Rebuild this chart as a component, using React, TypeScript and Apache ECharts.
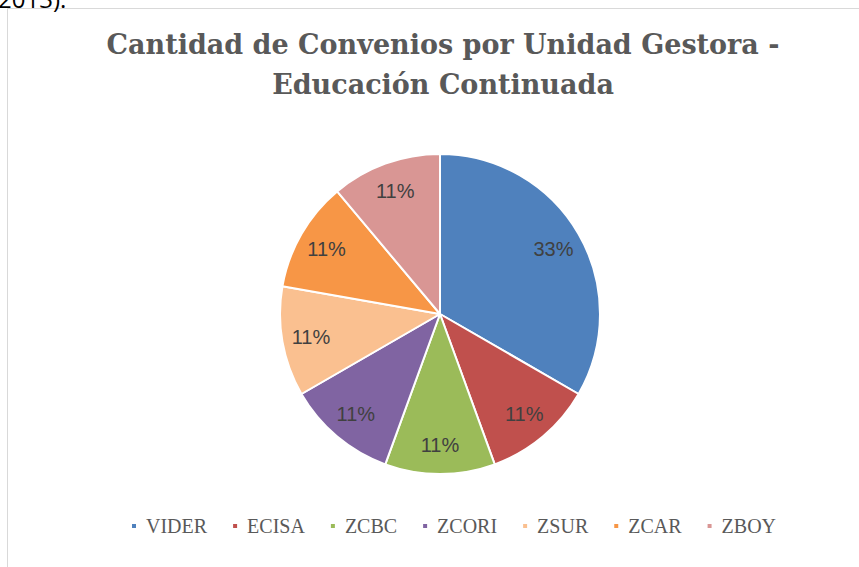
import React, { useEffect, useRef } from "react";
import * as echarts from "echarts";

const titleLines = ["Cantidad de Convenios por Unidad Gestora -", "Educación Continuada"];
const categories = ["VIDER", "ECISA", "ZCBC", "ZCORI", "ZSUR", "ZCAR", "ZBOY"];
const counts = [3, 1, 1, 1, 1, 1, 1];
const colors = ["#4F81BD", "#C0504D", "#9BBB59", "#8064A2", "#FAC090", "#F79646", "#D99694"];
const topText = "2013).";

export default function App() {
  const ref = useRef<HTMLDivElement>(null);
  useEffect(() => {
    if (!ref.current) return;
    const chart = echarts.init(ref.current, null, { renderer: "svg" });
    const data = categories.map((name, i) => ({ name, value: counts[i], itemStyle: { color: colors[i] } }));
    const total = counts.reduce((a, b) => a + b, 0);
    chart.setOption({
      animation: false,
      backgroundColor: "#ffffff",
      graphic: [
        {
          type: "rect",
          shape: { x: 7.5, y: 8.5, width: 900, height: 620 },
          style: { fill: "none", stroke: "#d9d9d9", lineWidth: 1 },
          silent: true,
        },
        {
          type: "text",
          x: -2,
          y: 10,
          style: {
            text: topText,
            fill: "#000000",
            font: "24px 'Open Sans', sans-serif",
            textVerticalAlign: "bottom",
          },
          silent: true,
        },
      ],
      title: {
        text: titleLines.join("\n"),
        left: 438,
        textAlign: "center",
        top: 19,
        textStyle: {
          fontFamily: "'DejaVu Serif', serif",
          fontWeight: "bold",
          fontSize: 27,
          lineHeight: 40,
          color: "#595959",
        },
      },
      legend: {
        top: 511,
        left: 125,
        itemWidth: 6,
        itemHeight: 6,
        itemGap: 24,
        icon: "rect",
        data: categories,
        textStyle: {
          fontFamily: "'Liberation Serif', serif",
          fontSize: 20,
          color: "#595959",
          padding: [0, 0, 0, 4],
        },
      },
      series: [
        {
          type: "pie",
          center: [440, 314],
          radius: [0, 160],
          startAngle: 90,
          clockwise: true,
          data,
          label: { show: false },
          labelLine: { show: false },
          itemStyle: { borderColor: "#ffffff", borderWidth: 2 },
          silent: true,
        },
        {
          type: "pie",
          center: [440, 314],
          radius: [96, 160],
          startAngle: 90,
          clockwise: true,
          data: categories.map((name, i) => ({ name, value: counts[i] })),
          itemStyle: { color: "rgba(0,0,0,0)" },
          label: {
            show: true,
            position: "inside",
            formatter: (p: any) => Math.round((p.value / total) * 100) + "%",
            fontFamily: "'Liberation Sans', sans-serif",
            fontSize: 20,
            color: "#404040",
          },
          labelLine: { show: false },
          silent: true,
          legendHoverLink: false,
        },
      ],
    });
    return () => chart.dispose();
  }, []);
  return <div ref={ref} style={{ position: "fixed", left: 0, top: 0, width: 859, height: 567 }} />;
}
